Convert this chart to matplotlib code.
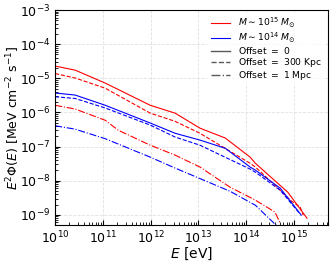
import numpy as np
import matplotlib
matplotlib.use("Agg")
import matplotlib.pyplot as plt
from matplotlib.lines import Line2D

# log10(E/eV) and log10(E^2 Phi)
lx_red_solid = [10.0, 10.42, 11.05, 11.99, 12.51, 13.03, 13.56, 14.08, 14.19, 14.87, 15.27]
ly_red_solid = [-4.64, -4.76, -5.14, -5.79, -6.02, -6.46, -6.75, -7.31, -7.49, -8.34, -9.10]

lx_red_dash = [10.0, 10.42, 11.05, 11.99, 12.51, 13.03, 14.08, 14.19, 14.71, 14.92, 15.13, 15.19]
ly_red_dash = [-4.86, -4.99, -5.29, -6.02, -6.26, -6.61, -7.49, -7.60, -8.28, -8.57, -8.78, -9.01]

lx_blue_solid = [10.0, 10.42, 11.05, 11.99, 12.51, 13.03, 13.56, 14.08, 14.19, 14.71, 15.15]
ly_blue_solid = [-5.43, -5.49, -5.79, -6.31, -6.61, -6.81, -7.05, -7.60, -7.69, -8.22, -9.01]

lx_blue_dash = [10.0, 10.42, 11.05, 11.99, 12.51, 13.03, 14.08, 14.19, 14.71, 15.11]
ly_blue_dash = [-5.54, -5.59, -5.87, -6.37, -6.72, -6.96, -7.66, -7.75, -8.28, -8.95]

lx_red_dd = [10.0, 10.42, 11.05, 11.32, 11.99, 12.51, 13.03, 13.66, 14.19, 14.60, 14.71]
ly_red_dd = [-5.79, -5.90, -6.23, -6.52, -6.96, -7.25, -7.60, -8.19, -8.57, -8.92, -9.25]

lx_blue_dd = [10.0, 10.42, 11.05, 11.99, 12.51, 13.66, 14.19, 14.71]
ly_blue_dd = [-6.39, -6.49, -6.77, -7.31, -7.63, -8.31, -8.72, -9.42]

series = [
    (lx_red_solid, ly_red_solid, "red", "-"),
    (lx_red_dash, ly_red_dash, "red", "--"),
    (lx_red_dd, ly_red_dd, "red", "-."),
    (lx_blue_solid, ly_blue_solid, "blue", "-"),
    (lx_blue_dash, ly_blue_dash, "blue", "--"),
    (lx_blue_dd, ly_blue_dd, "blue", "-."),
]

fig = plt.figure(figsize=(3.32, 2.66), dpi=100)
ax = fig.add_axes([0.166, 0.154, 0.822, 0.808])

for lx, ly, c, ls in series:
    ax.plot(10 ** np.array(lx), 10 ** np.array(ly), color=c, ls=ls, lw=0.8)

ax.set_xscale("log")
ax.set_yscale("log")
ax.set_xlim(1e10, 10 ** 15.71)
ax.set_ylim(10 ** -9.3, 1e-3)
ax.grid(True, which="major", ls="--", color="0.88", lw=0.6)
ax.tick_params(which="both", direction="in", labelsize=9)
ax.set_xlabel("$E$ [eV]", fontsize=10)
ax.set_ylabel(r"$E^2\Phi(E)$ [MeV cm$^{-2}$ s$^{-1}$]", fontsize=9)
ax.xaxis.set_label_coords(0.5, -0.095)
ax.yaxis.set_label_coords(-0.122, 0.5)

handles = [
    Line2D([], [], color="red", lw=0.8),
    Line2D([], [], color="blue", lw=0.8),
    Line2D([], [], color="0.35", lw=1.0, ls="-"),
    Line2D([], [], color="0.35", lw=1.0, ls="--"),
    Line2D([], [], color="0.35", lw=1.0, ls="-."),
]
labels = [r"$M\sim10^{15}\;M_{\odot}$", r"$M\sim10^{14}\;M_{\odot}$",
          r"Offset $=$ 0", r"Offset $=$ 300 Kpc", r"Offset $=$ 1 Mpc"]
ax.legend(handles, labels, loc="upper right", fontsize=6.7, frameon=True,
          edgecolor="none", framealpha=0.8, handlelength=2.1, handletextpad=0.8,
          labelspacing=0.03, borderaxespad=0.25)

fig.savefig("out.png", dpi=100)
